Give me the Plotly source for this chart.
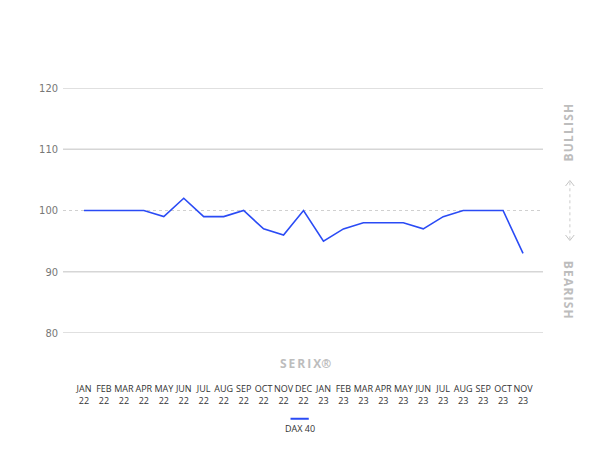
import plotly.graph_objects as go

# ── Data ─────────────────────────────────────────────────────────────────────
months = ["JAN", "FEB", "MAR", "APR", "MAY", "JUN", "JUL", "AUG", "SEP", "OCT", "NOV", "DEC",
          "JAN", "FEB", "MAR", "APR", "MAY", "JUN", "JUL", "AUG", "SEP", "OCT", "NOV"]
years = ["22"] * 12 + ["23"] * 11
dax40 = [100, 100, 100, 100, 99, 102, 99, 99, 100, 97, 96, 100,
         95, 97, 98, 98, 98, 97, 99, 100, 100, 100, 93]
y_ticks = [80, 90, 110, 120]

LINE_BLUE = "#2a4bf5"
GRID = "#d6d6d6"
MUTED = "#bdbdbd"

x = list(range(len(dax40)))
tick_text = [f"{m}<br>{y}" for m, y in zip(months, years)]

fig = go.Figure()

fig.add_trace(go.Scatter(
    x=x, y=dax40,
    mode="lines",
    line=dict(color=LINE_BLUE, width=1.6),
    name="DAX 40",
    showlegend=False,
))

# dotted neutral line at 100
fig.add_hline(y=100, line=dict(color="#d0d0d0", width=1, dash="dot"), layer="below")

# ── Right-hand bullish / bearish guide ───────────────────────────────────────
ax = 1.056
fig.add_shape(type="line", xref="paper", yref="y", x0=ax, x1=ax, y0=95.3, y1=104.8,
              line=dict(color="#cccccc", width=1, dash="dot"))
cw = 0.009
fig.add_shape(type="path", xref="paper", yref="y",
              path=f"M {ax - cw} 104.0 L {ax} 104.9 L {ax + cw} 104.0",
              line=dict(color="#c4c4c4", width=1))
fig.add_shape(type="path", xref="paper", yref="y",
              path=f"M {ax - cw} 96.0 L {ax} 95.1 L {ax + cw} 96.0",
              line=dict(color="#c4c4c4", width=1))

# rotated annotations land a little left of their anchor, hence the xshift
fig.add_annotation(text="B\u200aU\u200aL\u200aL\u200aI\u200aS\u200aH", xref="paper", yref="y",
                   x=ax, y=112.8, textangle=-90, showarrow=False, xshift=9,
                   font=dict(family="Open Sans", size=12, color=MUTED, weight="bold"))
fig.add_annotation(text="B\u200aE\u200aA\u200aR\u200aI\u200aS\u200aH", xref="paper", yref="y",
                   x=ax, y=87.0, textangle=90, showarrow=False, xshift=9,
                   font=dict(family="Open Sans", size=12, color=MUTED, weight="bold"))

# brand label
fig.add_annotation(text="S\u2009E\u2009R\u2009I\u2009X\u00ae", xref="paper", yref="paper",
                   x=0.505, y=-0.125, showarrow=False, yanchor="middle",
                   font=dict(family="Open Sans", size=12, color=MUTED, weight="bold"))

# legend drawn by hand: line sample above the label
fig.add_shape(type="line", xref="paper", yref="paper", x0=0.474, x1=0.512, y0=-0.35, y1=-0.35,
              line=dict(color=LINE_BLUE, width=2))
fig.add_annotation(text="DAX 40", xref="paper", yref="paper", x=0.493, y=-0.388,
                   showarrow=False, yanchor="middle",
                   font=dict(family="Open Sans", size=9, color="#333333"))

# page body adds an 8px offset, so the figure is sized 8px smaller each way
fig.update_layout(
    width=593, height=455,
    margin=dict(l=55, r=58, t=80, b=130, autoexpand=False),
    plot_bgcolor="#ffffff",
    paper_bgcolor="#ffffff",
    showlegend=False,
    xaxis=dict(
        range=[-1.05, 23.0],
        tickmode="array",
        tickvals=x,
        ticktext=tick_text,
        tickangle=0,
        automargin=False,
        showgrid=False, zeroline=False, showline=False,
        ticks="",
        ticklabelstandoff=49,
        tickfont=dict(family="Open Sans", size=9, color="#333333"),
        fixedrange=True,
    ),
    yaxis=dict(
        range=[80, 120],
        tickmode="array",
        tickvals=[80, 90, 100, 110, 120],
        automargin=False,
        showgrid=False, zeroline=False, showline=False,
        ticks="",
        ticklabelstandoff=4,
        tickfont=dict(family="DejaVu Sans Condensed", size=11, color="#777777"),
        fixedrange=True,
    ),
)

for v in y_ticks:
    fig.add_hline(y=v, line=dict(color=GRID, width=1.4), layer="below")

fig.write_html("out.html")
